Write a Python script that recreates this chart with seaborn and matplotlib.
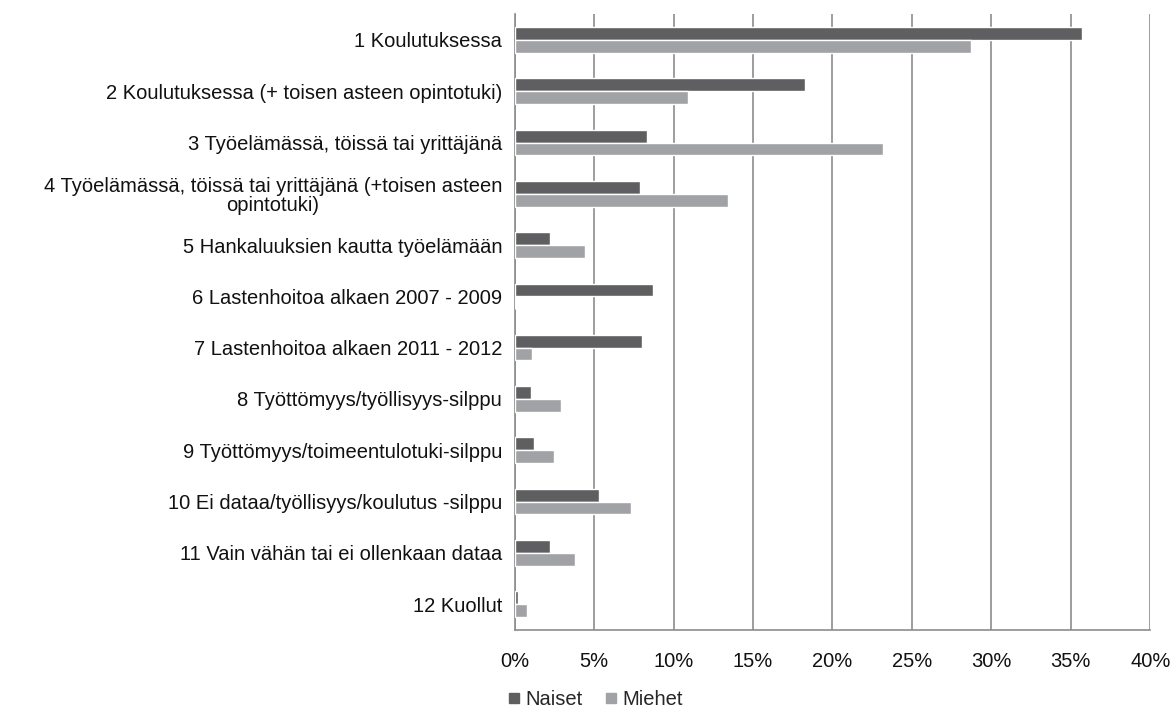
import numpy as np
import pandas as pd
import seaborn as sns
import matplotlib.pyplot as plt
from matplotlib.ticker import PercentFormatter, MultipleLocator

categories = [
    "1 Koulutuksessa",
    "2 Koulutuksessa (+ toisen asteen opintotuki)",
    "3 Työelämässä, töissä tai yrittäjänä",
    "4 Työelämässä, töissä tai yrittäjänä (+toisen asteen\nopintotuki)",
    "5 Hankaluuksien kautta työelämään",
    "6 Lastenhoitoa alkaen 2007 - 2009",
    "7 Lastenhoitoa alkaen 2011 - 2012",
    "8 Työttömyys/työllisyys-silppu",
    "9 Työttömyys/toimeentulotuki-silppu",
    "10 Ei dataa/työllisyys/koulutus -silppu",
    "11 Vain vähän tai ei ollenkaan dataa",
    "12 Kuollut",
]
naiset = [35.7, 18.3, 8.3, 7.9, 2.2, 8.7, 8.0, 1.0, 1.2, 5.3, 2.2, 0.2]
miehet = [28.7, 10.9, 23.2, 13.4, 4.4, 0.0, 1.1, 2.9, 2.5, 7.3, 3.8, 0.8]
series = ["Naiset", "Miehet"]
colors = ["#5f5f61", "#a1a2a5"]

df = pd.DataFrame({
    "Luokka": categories * 2,
    "Osuus": naiset + miehet,
    "Sukupuoli": [series[0]] * len(categories) + [series[1]] * len(categories),
})

sns.set_style("white")
plt.rcParams["font.family"] = ["Liberation Sans", "DejaVu Sans"]

fig = plt.figure(figsize=(11.75, 7.14), dpi=100)
ax = fig.add_axes([0.438, 0.118, 0.541, 0.862])

sns.barplot(data=df, y="Luokka", x="Osuus", hue="Sukupuoli", order=categories,
            hue_order=series, palette=colors, orient="h", width=0.5,
            edgecolor="white", linewidth=1.0, ax=ax, zorder=3)

ax.set_xlim(0, 40)
ax.xaxis.set_major_locator(MultipleLocator(5))
ax.xaxis.set_major_formatter(PercentFormatter(decimals=0))
ax.grid(axis="x", color="#8c8c8c", linewidth=1.2, zorder=0)
ax.set_axisbelow(True)
ax.set_xlabel("")
ax.set_ylabel("")

for side in ["top", "right"]:
    ax.spines[side].set_visible(False)
for side in ["left", "bottom"]:
    ax.spines[side].set_color("#8c8c8c")
    ax.spines[side].set_linewidth(1.2)

ax.tick_params(axis="x", length=0, pad=16, labelsize=14.5, colors="#111111")
ax.tick_params(axis="y", length=0, pad=9, labelsize=14.5, colors="#111111")
for lbl in ax.get_yticklabels():
    lbl.set_multialignment("center")
    lbl.set_linespacing(1.0)

ax.legend_.remove()
handles = [plt.Line2D([], [], marker="s", linestyle="", color=c, markersize=7) for c in colors]
fig.legend(handles, series, loc="lower center", bbox_to_anchor=(0.505, -0.018), ncol=2,
           frameon=False, fontsize=14.5, handletextpad=0.05, columnspacing=0.9,
           handlelength=1.0)

fig.savefig("out.png", dpi=100)
